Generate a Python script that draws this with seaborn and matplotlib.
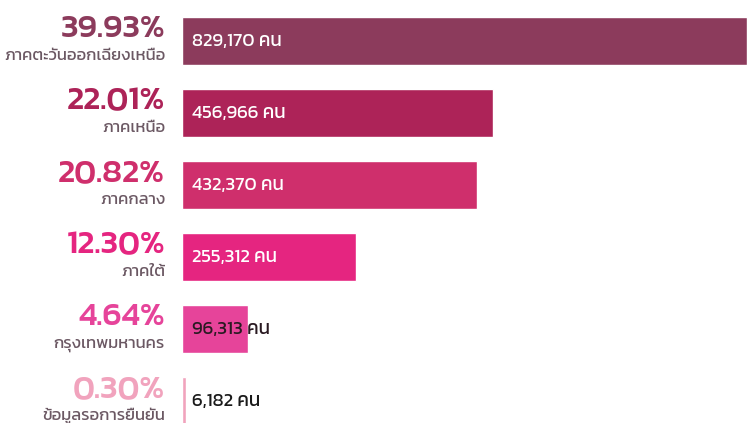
import matplotlib
matplotlib.use("Agg")
import matplotlib.pyplot as plt
import seaborn as sns
import pandas as pd

regions = ["ภาคตะวันออกเฉียงเหนือ", "ภาคเหนือ", "ภาคกลาง", "ภาคใต้", "กรุงเทพมหานคร", "ข้อมูลรอการยืนยัน"]
counts = [829170, 456966, 432370, 255312, 96313, 6182]
percents = ["39.93%", "22.01%", "20.82%", "12.30%", "4.64%", "0.30%"]
colors = ["#8c3b5c", "#ad2358", "#cf2f6c", "#e52580", "#e6449a", "#f1a3bd"]
value_colors = ["white", "white", "white", "white", "#2a1a22", "#1a1a1a"]

sns.set_theme(style="white")
plt.rcParams["font.family"] = ["Kanit", "DejaVu Sans"]

df = pd.DataFrame({"region": regions, "count": counts})

fig = plt.figure(figsize=(7.47, 4.23), dpi=100)
ax = fig.add_axes([0, 0, 1, 1])
sns.barplot(data=df, y="region", x="count", hue="region", palette=colors,
            orient="h", width=0.67, legend=False, ax=ax, saturation=1)

W, H = 747, 423
bar_left_px, bar_right_px = 182, 747
xper = max(counts) / (bar_right_px - bar_left_px)
ax.set_xlim(-bar_left_px * xper, max(counts))
row_px = 72
top_px = 41
ax.set_ylim(H / row_px - top_px / row_px, -top_px / row_px)
ax.axis("off")

lab_x = -17 * xper
for i, (r, c, p) in enumerate(zip(regions, counts, percents)):
    ax.text(lab_x, i - 4 / row_px, p, ha="right", va="baseline",
            fontsize=24, fontweight="medium", color=colors[i])
    ax.text(lab_x, i + 19 / row_px, r, ha="right", va="baseline",
            fontsize=12, fontweight="normal", color="#6b5863")
    ax.text(10 * xper, i, f"{c:,} คน", ha="left", va="center",
            fontsize=13.5, color=value_colors[i])

fig.savefig("out.png", dpi=100)
